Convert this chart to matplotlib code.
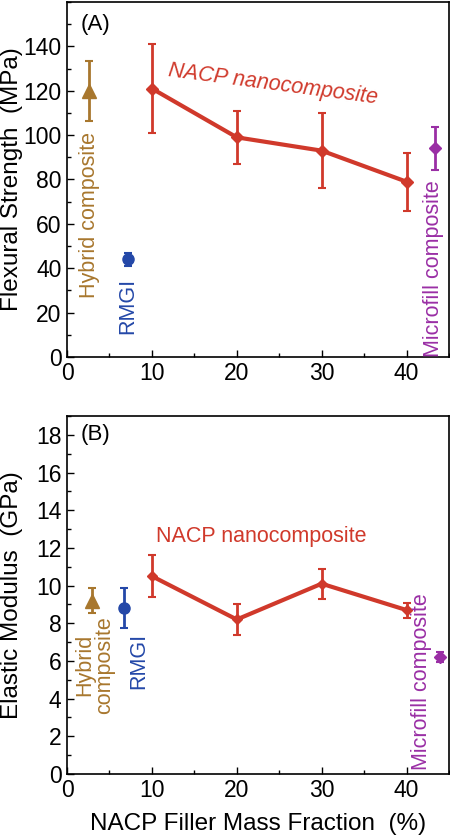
import matplotlib
matplotlib.use("Agg")
import matplotlib.pyplot as plt
from matplotlib.ticker import MultipleLocator

plt.rcParams['font.family'] = ['Liberation Sans', 'DejaVu Sans']

# NACP nanocomposite series
nacp_x = [10, 20, 30, 40]
nacp_fs = [121, 99, 93, 79]
nacp_fs_err = [20, 12, 17, 13]
nacp_em = [10.5, 8.2, 10.1, 8.7]
nacp_em_err = [1.1, 0.8, 0.8, 0.4]

# comparison materials: (x position, value, error)
hybrid_fs = (2.6, 120, 13.5)
rmgi_fs = (7.2, 44, 3)
micro_fs = (43.4, 94, 9.5)
hybrid_em = (2.9, 9.2, 0.65)
rmgi_em = (6.7, 8.8, 1.05)
micro_em = (43.9, 6.2, 0.25)

red = '#d0392b'
brown = '#a8772e'
blue = '#2448a8'
purple = '#9a2fa5'

fig = plt.figure(figsize=(4.5, 8.36), dpi=100)
ax1 = fig.add_axes([67/450, 1-357/836, 382/450, 355/836])
ax2 = fig.add_axes([67/450, 1-774/836, 382/450, 358/836])

def errpt(ax, pt, color, marker, ms):
    ax.errorbar([pt[0]], [pt[1]], yerr=[pt[2]], color=color, marker=marker,
                ms=ms, lw=2, capsize=3, capthick=1.5, zorder=3)

fs_txt = 15.5

# panel A
ax1.errorbar(nacp_x, nacp_fs, yerr=nacp_fs_err, color=red, marker='D', ms=6,
             lw=3, elinewidth=2, capsize=3, capthick=1.5)
errpt(ax1, hybrid_fs, brown, '^', 10)
errpt(ax1, rmgi_fs, blue, 'o', 8)
errpt(ax1, micro_fs, purple, 'D', 6)
ax1.set_xlim(0, 45)
ax1.set_ylim(0, 160)
ax1.yaxis.set_minor_locator(MultipleLocator(10))
ax1.set_yticks(range(0, 141, 20))
ax1.set_ylabel('Flexural Strength  (MPa)', fontsize=17.5)
ax1.yaxis.set_label_coords(-0.115, 0.5)
ax1.text(1.6, 150, '(A)', fontsize=16, va='center')
ax1.text(24.3, 123, 'NACP nanocomposite', color=red, fontsize=fs_txt,
         style='italic', rotation=-7.5, ha='center', va='center')
ax1.text(hybrid_fs[0], 64, 'Hybrid composite', color=brown, fontsize=fs_txt,
         rotation=90, ha='center', va='center')
ax1.text(rmgi_fs[0], 23, 'RMGI', color=blue, fontsize=fs_txt,
         rotation=90, ha='center', va='center')
ax1.text(43.2, 40, 'Microfill composite', color=purple, fontsize=fs_txt,
         rotation=90, ha='center', va='center')

# panel B
ax2.errorbar(nacp_x, nacp_em, yerr=nacp_em_err, color=red, marker='D', ms=5,
             lw=3, elinewidth=2, capsize=3, capthick=1.5)
errpt(ax2, hybrid_em, brown, '^', 10)
errpt(ax2, rmgi_em, blue, 'o', 8)
errpt(ax2, micro_em, purple, 'D', 6)
ax2.set_xlim(0, 45)
ax2.set_ylim(0, 19)
ax2.yaxis.set_major_locator(MultipleLocator(2))
ax2.yaxis.set_minor_locator(MultipleLocator(1))
ax2.set_ylabel('Elastic Modulus  (GPa)', fontsize=17.5)
ax2.yaxis.set_label_coords(-0.115, 0.5)
ax2.set_xlabel('NACP Filler Mass Fraction  (%)', fontsize=17.5, labelpad=8)
ax2.text(1.6, 18, '(B)', fontsize=16, va='center')
ax2.text(22.9, 12.6, 'NACP nanocomposite', color=red, fontsize=fs_txt,
         ha='center', va='center')
ax2.text(3.3, 5.8, 'Hybrid\ncomposite', color=brown, fontsize=fs_txt,
         rotation=90, ha='center', va='center', linespacing=0.95)
ax2.text(8.4, 6.0, 'RMGI', color=blue, fontsize=fs_txt,
         rotation=90, ha='center', va='center')
ax2.text(41.8, 4.9, 'Microfill composite', color=purple, fontsize=fs_txt,
         rotation=90, ha='center', va='center')

for ax in (ax1, ax2):
    ax.xaxis.set_major_locator(MultipleLocator(10))
    ax.xaxis.set_minor_locator(MultipleLocator(5))
    ax.tick_params(which='both', direction='in', labelsize=16.5, width=1)
    ax.tick_params(which='major', length=5)
    ax.tick_params(which='minor', length=3)
    ax.tick_params(axis='y', pad=4)
    for s in ax.spines.values():
        s.set_linewidth(1.2)

fig.savefig('out.png', dpi=100)
